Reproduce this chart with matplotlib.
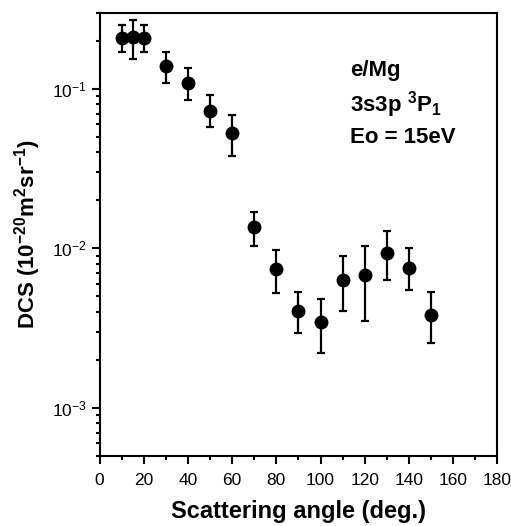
import matplotlib
matplotlib.use("Agg")
import matplotlib.pyplot as plt
from matplotlib.ticker import MultipleLocator, LogLocator

plt.rcParams['font.family'] = ['Liberation Sans', 'DejaVu Sans']
plt.rcParams['mathtext.fontset'] = 'custom'
plt.rcParams['mathtext.rm'] = 'Liberation Sans'
plt.rcParams['mathtext.bf'] = 'Liberation Sans:bold'

# data
angle = [10, 15, 20, 30, 40, 50, 60, 70, 80, 90, 100, 110, 120, 130, 140, 150]
dcs = [0.207, 0.21, 0.207, 0.138, 0.108, 0.0724, 0.0526, 0.01355, 0.0074,
       0.00403, 0.00346, 0.00635, 0.0068, 0.0093, 0.00756, 0.00384]
err_hi = [0.25, 0.268, 0.25, 0.171, 0.134, 0.0908, 0.0686, 0.0169, 0.0097,
          0.00534, 0.00481, 0.009, 0.01035, 0.0129, 0.0101, 0.00534]
err_lo = [0.169, 0.153, 0.169, 0.108, 0.085, 0.0577, 0.0377, 0.0104, 0.00528,
          0.00294, 0.00222, 0.00403, 0.00349, 0.00635, 0.0055, 0.00256]

lower = [d - l for d, l in zip(dcs, err_lo)]
upper = [h - d for d, h in zip(dcs, err_hi)]

fig = plt.figure(figsize=(5.11, 5.26), dpi=100)
ax = fig.add_axes([0.195, 0.133, 0.778, 0.843])

ax.errorbar(angle, dcs, yerr=[lower, upper], fmt='o', color='black',
            markersize=9, elinewidth=1.6, capsize=3, capthick=1.6)

ax.set_yscale('log')
ax.set_xlim(0, 180)
ax.set_ylim(5e-4, 0.3)
ax.xaxis.set_major_locator(MultipleLocator(20))
ax.xaxis.set_minor_locator(MultipleLocator(10))
ax.yaxis.set_major_locator(LogLocator(base=10))
ax.yaxis.set_minor_locator(LogLocator(base=10, subs=range(2, 10)))

for s in ax.spines.values():
    s.set_linewidth(1.5)
ax.tick_params(which='major', direction='out', length=6, width=1.5, labelsize=12.5)
ax.tick_params(which='minor', direction='out', length=3, width=1.5)
ax.tick_params(axis='x', which='major', pad=6)
ax.tick_params(top=False, right=False)

ax.set_xlabel('Scattering angle (deg.)', fontsize=17, fontweight='bold', labelpad=9)
ax.set_ylabel(r'DCS (10$^{\mathbf{-20}}$m$^{\mathbf{2}}$sr$^{\mathbf{-1}}$)',
              fontsize=16, fontweight='bold', labelpad=6)

ax.text(0.63, 0.857, 'e/Mg', transform=ax.transAxes, fontsize=16, fontweight='bold')
ax.text(0.63, 0.776, r'3s3p $^{\mathbf{3}}$P$_{\mathbf{1}}$', transform=ax.transAxes,
        fontsize=16, fontweight='bold')
ax.text(0.63, 0.706, 'Eo = 15eV', transform=ax.transAxes, fontsize=16, fontweight='bold')

fig.savefig('out.png', dpi=100)
